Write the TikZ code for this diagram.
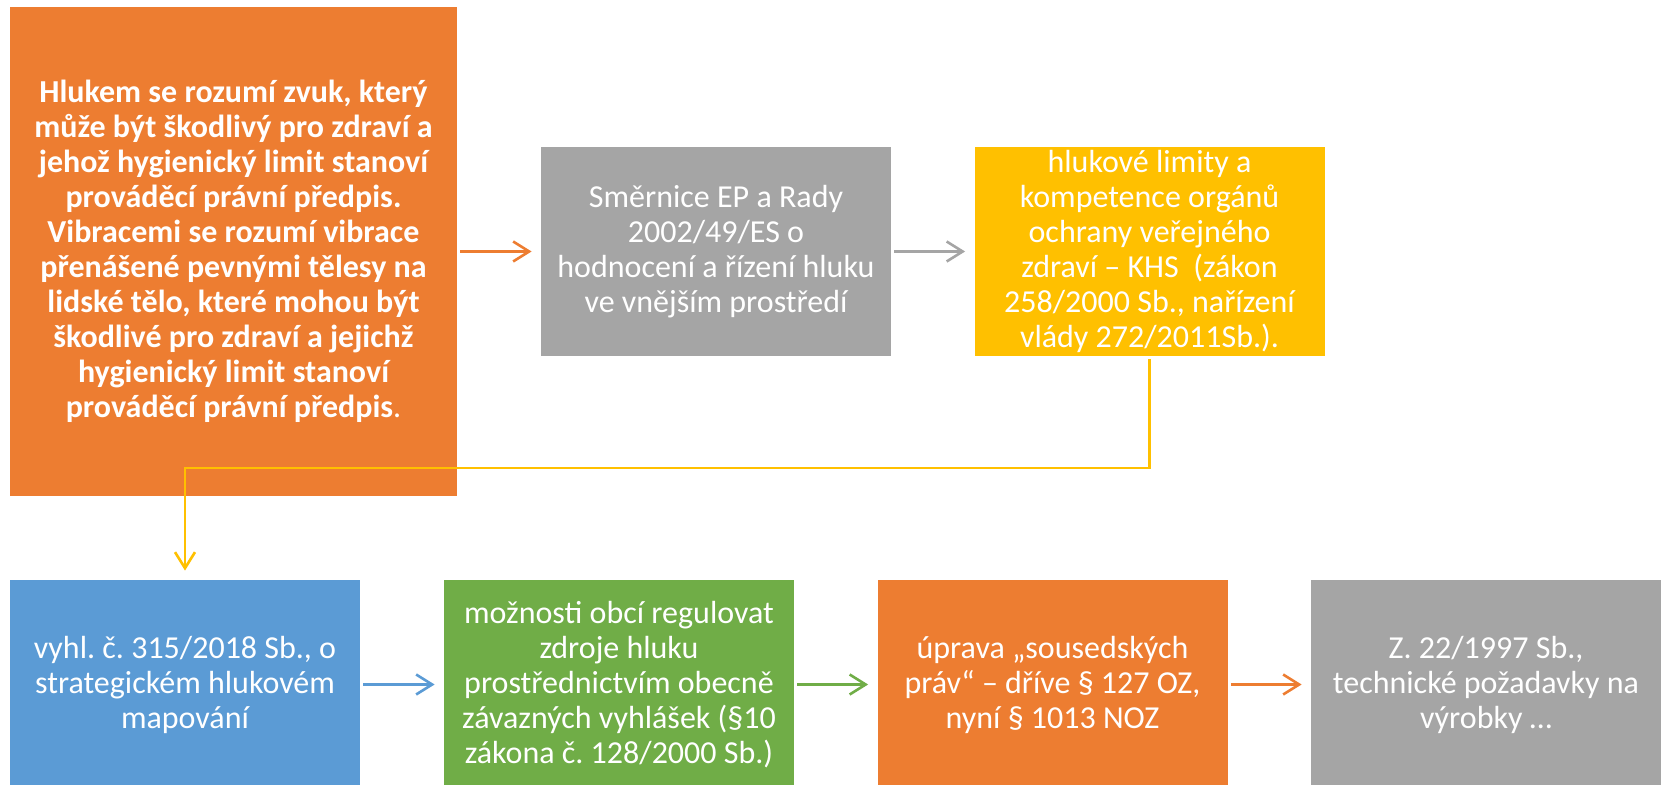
\documentclass[tikz,border=0pt]{standalone}
\usepackage{fontspec}
\setmainfont{Carlito}
\usetikzlibrary{arrows.meta}
\frenchspacing
\definecolor{cOrange}{HTML}{ED7D31}
\definecolor{cGray}{HTML}{A5A5A5}
\definecolor{cYellow}{HTML}{FFC000}
\definecolor{cBlue}{HTML}{5B9BD5}
\definecolor{cGreen}{HTML}{70AD47}
\tikzset{
  box/.style={rectangle, inner sep=0pt, align=center, text=white,
    font=\fontsize{16pt}{17.5pt}\selectfont\frenchspacing},
  topbox/.style={box, minimum width=175pt, minimum height=104.5pt},
  botbox/.style={box, minimum width=175pt, minimum height=104.5pt},
  conn/.style={line width=1.3pt, -{Straight Barb[length=8pt,width=10pt,line width=1.3pt]},
    shorten <=1.5pt, shorten >=4.5pt}
}
\begin{document}
\begin{tikzpicture}[x=0.5pt,y=-0.5pt]
\useasboundingbox (0,0) rectangle (1661,785);
\clip (0,0) rectangle (1661,785);
% top row
\node[box, fill=cOrange, minimum width=223.5pt, minimum height=244.5pt] (main) at (233.5,251.5)
  {\bfseries Hlukem se rozumí zvuk, který\\\bfseries může být škodlivý pro zdraví a\\\bfseries jehož hygienický limit stanoví\\\bfseries prováděcí právní předpis.\\\bfseries Vibracemi se rozumí vibrace\\\bfseries přenášené pevnými tělesy na\\\bfseries lidské tělo, které mohou být\\\bfseries škodlivé pro zdraví a jejichž\\\bfseries hygienický limit stanoví\\{\bfseries prováděcí právní předpis}.};
\node[topbox, fill=cGray] (smer) at (716,251.5)
  {Směrnice EP a Rady\\2002/49/ES o\\hodnocení a řízení hluku\\ve vnějším prostředí};
\node[topbox, fill=cYellow] (lim) at (1149.5,251.5)
  {hlukové limity a\\kompetence orgánů\\ochrany veřejného\\zdraví – KHS\ \ (zákon\\258/2000 Sb., nařízení\\vlády 272/2011Sb.).};
% bottom row
\node[botbox, fill=cBlue] (vyhl) at (185,684.5)
  {vyhl. č. 315/2018 Sb., o\\strategickém hlukovém\\mapování};
\node[botbox, fill=cGreen] (obce) at (619,684.5)
  {možnosti obcí regulovat\\zdroje hluku\\prostřednictvím obecně\\závazných vyhlášek (§10\\zákona č. 128/2000 Sb.)};
\node[botbox, fill=cOrange] (soused) at (1052.5,684.5)
  {úprava „sousedských\\práv“ – dříve § 127 OZ,\\nyní § 1013 NOZ};
\node[botbox, fill=cGray] (tech) at (1486,684.5)
  {Z. 22/1997 Sb.,\\technické požadavky na\\výrobky …};
% connectors
\coordinate (turn) at (0,468);
\draw[conn, cOrange] (main.east |- smer.west) -- (smer.west);
\draw[conn, cGray] (smer.east) -- (lim.west);
\draw[conn, cYellow] (lim.south) -- (lim.south |- turn) -| (vyhl.north);
\draw[conn, cBlue] (vyhl.east) -- (obce.west);
\draw[conn, cGreen] (obce.east) -- (soused.west);
\draw[conn, cOrange] (soused.east) -- (tech.west);
\end{tikzpicture}
\end{document}
